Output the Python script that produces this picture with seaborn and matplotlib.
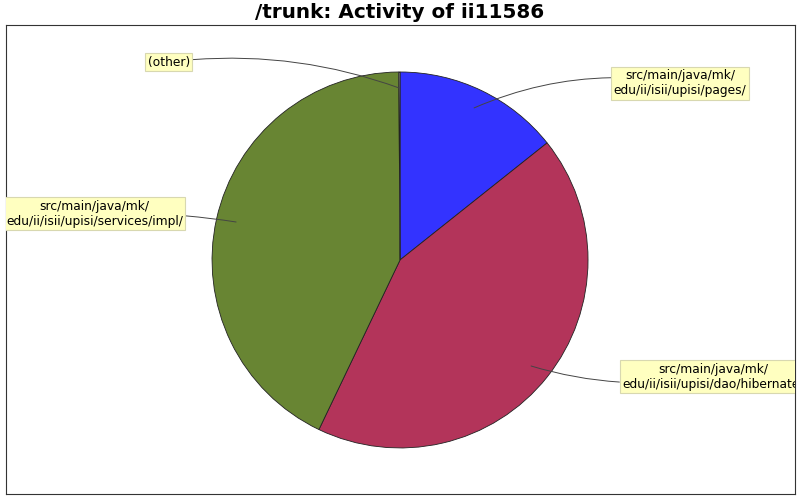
import matplotlib
matplotlib.use("Agg")
import matplotlib.pyplot as plt
import seaborn as sns

sns.set_theme(style="white")
plt.rcParams['font.family'] = ['DejaVu Sans']
plt.rcParams['text.color'] = 'black'

labels = ["src/main/java/mk/\nedu/ii/isii/upisi/pages/",
          "src/main/java/mk/\nedu/ii/isii/upisi/dao/hibernate/",
          "src/main/java/mk/\nedu/ii/isii/upisi/services/impl/",
          "(other)"]
values = [14.3, 42.8, 42.8, 0.1]
colors = ["#3333FF", "#B3345A", "#688533", "#CCCCCC"]

# label box positions (data units; pie radius = 1) and anchor points on wedges
label_pos = [(1.49, 0.94), (1.665, -0.62), (-1.625, 0.245), (-1.23, 1.053)]
anchor_pos = [(0.394, 0.809), (0.697, -0.564), (-0.872, 0.202), (-0.005, 0.915)]
rads = [0.15, -0.12, -0.05, -0.12]

fig = plt.figure(figsize=(8, 5), dpi=100)
ax = fig.add_axes([6/800, 6/500, 789/800, 469/500])
ax.pie(values, colors=colors, startangle=90, counterclock=False,
       wedgeprops=dict(edgecolor="#222222", linewidth=0.6), radius=1.0)
ax.set_aspect('auto')
ax.set_xlim(-2.096, 2.101)
ax.set_ylim(-1.245, 1.25)
ax.set_frame_on(True)
ax.set_xticks([])
ax.set_yticks([])
for sp in ax.spines.values():
    sp.set_visible(True)
    sp.set_color("#333333")
    sp.set_linewidth(0.8)

for lab, lp, ap, rad in zip(labels, label_pos, anchor_pos, rads):
    ax.annotate(lab, xy=ap, xytext=lp, ha="center", va="center",
                fontsize=8.8, color="black",
                bbox=dict(boxstyle="square,pad=0.2", fc="#FFFFC0", ec="#D8D8B0", lw=0.8),
                arrowprops=dict(arrowstyle="-", color="#444444", lw=0.7,
                                connectionstyle=f"arc3,rad={rad}",
                                shrinkA=0, shrinkB=0),
                annotation_clip=False, clip_on=True)

fig.text(0.5, 1 - 13/500, "/trunk: Activity of ii11586", ha="center", va="center",
         fontsize=14.4, fontweight="bold", color="black")

fig.savefig("out.png", dpi=100)
